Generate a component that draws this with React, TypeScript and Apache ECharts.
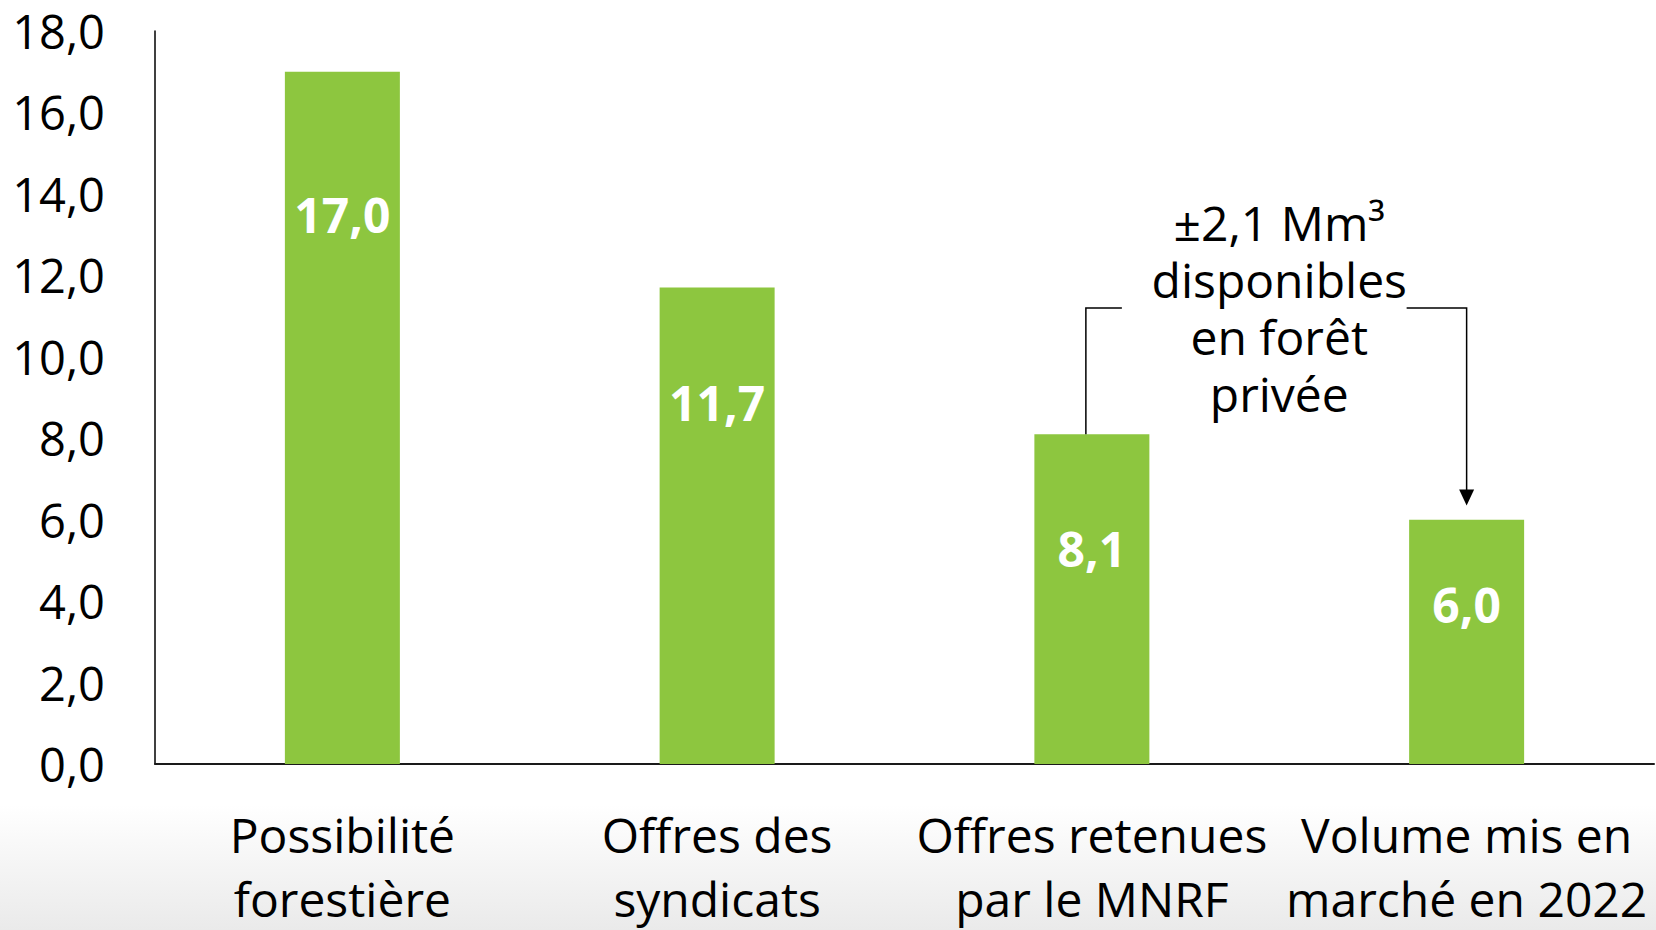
import React, { useEffect, useRef } from "react";
import * as echarts from "echarts";

const categories = [
  "Possibilité\nforestière",
  "Offres des\nsyndicats",
  "Offres retenues\npar le MNRF",
  "Volume mis en\nmarché en 2022",
];
const values = [17.0, 11.7, 8.1, 6.0];
const yTicks = { min: 0, max: 18, interval: 2 };
const annotationText = "±2,1 Mm³\ndisponibles\nen forêt\nprivée";
const annotationLevel = 11.2; // value level of bracket
const arrowTipLevel = 6.35;

// style: distance (px) from bar top to the centre of its value label
const labelDrop = [143, 115, 114, 85];

const FONT = "'Open Sans', 'Noto Sans', sans-serif";
const fmt = (v: number) => v.toFixed(1).replace(".", ",");

export default function App() {
  const ref = useRef<HTMLDivElement>(null);
  useEffect(() => {
    document.body.style.margin = "0";
    if (!ref.current) return;
    const chart = echarts.init(ref.current, null, { renderer: "svg" });
    chart.setOption({
      animation: false,
      backgroundColor: "#ffffff",
      grid: { left: 155, right: 2, top: 31, bottom: 161, containLabel: false },
      xAxis: {
        type: "category",
        data: categories,
        axisLine: { show: true, lineStyle: { color: "#1a1a1a", width: 2 } },
        axisTick: { show: false },
        axisLabel: {
          color: "#000",
          fontFamily: FONT,
          fontSize: 48,
          lineHeight: 64,
          margin: 38,
          interval: 0,
        },
      },
      yAxis: {
        type: "value",
        min: yTicks.min,
        max: yTicks.max,
        interval: yTicks.interval,
        axisLine: { show: true, lineStyle: { color: "#000", width: 1.5 } },
        axisTick: { show: false },
        splitLine: { show: false },
        axisLabel: {
          color: "#000",
          fontFamily: FONT,
          fontSize: 47,
          margin: 50,
          formatter: (v: number) => fmt(v),
        },
      },
      series: [
        {
          type: "bar",
          barWidth: 115,
          itemStyle: { color: "#8dc63f" },
          z: 3,
          data: values.map((v, i) => ({
            value: v,
            label: {
              show: true,
              position: ["50%", labelDrop[i]],
              align: "center",
              verticalAlign: "middle",
              color: "#fff",
              fontFamily: FONT,
              fontWeight: "bold",
              fontSize: 48,
              formatter: () => fmt(v),
            },
          })),
        },
      ],
    });

    const px = (i: number, v: number) =>
      chart.convertToPixel({ xAxisIndex: 0, yAxisIndex: 0 }, [i, v]) as number[];
    const b3 = px(2, values[2]);
    const b4 = px(3, values[3]);
    const lvl = px(2, annotationLevel)[1];
    const tip = px(3, arrowTipLevel)[1];
    const midX = (b3[0] + b4[0]) / 2;
    const lx = b3[0] - 6;
    const rx = b4[0];
    const lineStyle = { stroke: "#000", lineWidth: 1.5 };

    chart.setOption({
      graphic: [
        {
          type: "rect",
          z: -10,
          silent: true,
          shape: { x: 0, y: 805, width: 1656, height: 125 },
          style: {
            fill: new echarts.graphic.LinearGradient(0, 0, 0, 1, [
              { offset: 0, color: "#ffffff" },
              { offset: 1, color: "#eaeaea" },
            ]),
          },
        },
        {
          type: "polyline",
          z: 10,
          shape: { points: [[lx, b3[1]], [lx, lvl], [lx + 36, lvl]] },
          style: { ...lineStyle, fill: "none" },
        },
        {
          type: "polyline",
          z: 10,
          shape: { points: [[rx - 60, lvl], [rx, lvl], [rx, tip - 14]] },
          style: { ...lineStyle, fill: "none" },
        },
        {
          type: "polygon",
          z: 10,
          shape: { points: [[rx - 7.5, tip - 16], [rx + 7.5, tip - 16], [rx, tip]] },
          style: { fill: "#000" },
        },
        {
          type: "text",
          z: 10,
          x: midX,
          y: lvl,
          style: {
            text: annotationText,
            fontFamily: FONT,
            fontSize: 48,
            lineHeight: 57,
            fill: "#000",
            align: "center",
            verticalAlign: "middle",
          },
        },
      ],
    });
    return () => chart.dispose();
  }, []);
  return <div ref={ref} style={{ width: 1656, height: 930 }} />;
}
